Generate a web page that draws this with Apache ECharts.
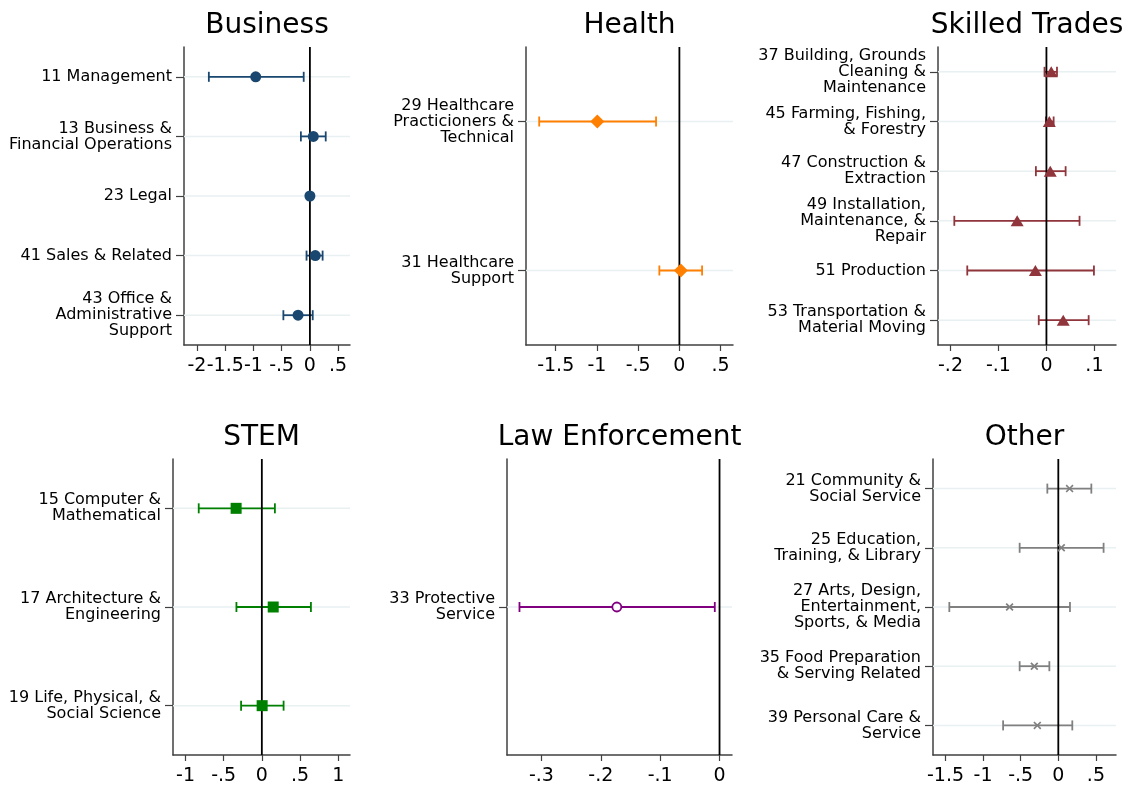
<!DOCTYPE html>
<html>
<head>
<meta charset="utf-8">
<script src="https://cdn.jsdelivr.net/npm/echarts@6/dist/echarts.min.js"></script>
<style>
    html, body { margin: 0; padding: 0; background: #fff; }
    #chart { width: 1129px; height: 786px; }
</style>
</head>
<body>
<div id="chart"></div>
<script>
// ---- data ----
var businessLabels = ['11 Management', '13 Business &\nFinancial Operations', '23 Legal', '41 Sales & Related', '43 Office &\nAdministrative\nSupport'];
var businessCoef = [-0.96, 0.06, 0.0, 0.095, -0.21];
var businessLow = [-1.79, -0.16, -0.015, -0.06, -0.47];
var businessHigh = [-0.11, 0.28, 0.015, 0.225, 0.05];
var businessTicks = [-2, -1.5, -1, -0.5, 0, 0.5];

var healthLabels = ['29 Healthcare\nPracticioners &\nTechnical', '31 Healthcare\nSupport'];
var healthCoef = [-0.995, 0.017];
var healthLow = [-1.70, -0.243];
var healthHigh = [-0.283, 0.275];
var healthTicks = [-1.5, -1, -0.5, 0, 0.5];

var tradesLabels = ['37 Building, Grounds\nCleaning &\nMaintenance', '45 Farming, Fishing,\n& Forestry', '47 Construction &\nExtraction', '49 Installation,\nMaintenance, &\nRepair', '51 Production', '53 Transportation &\nMaterial Moving'];
var tradesCoef = [0.010, 0.006, 0.008, -0.061, -0.023, 0.035];
var tradesLow = [-0.004, -0.001, -0.022, -0.192, -0.165, -0.016];
var tradesHigh = [0.022, 0.015, 0.040, 0.069, 0.099, 0.088];
var tradesTicks = [-0.2, -0.1, 0, 0.1];

var stemLabels = ['15 Computer &\nMathematical', '17 Architecture &\nEngineering', '19 Life, Physical, &\nSocial Science'];
var stemCoef = [-0.337, 0.149, 0.004];
var stemLow = [-0.827, -0.333, -0.272];
var stemHigh = [0.171, 0.643, 0.285];
var stemTicks = [-1, -0.5, 0, 0.5, 1];

var lawLabels = ['33 Protective\nService'];
var lawCoef = [-0.173];
var lawLow = [-0.337];
var lawHigh = [-0.008];
var lawTicks = [-0.3, -0.2, -0.1, 0];

var otherLabels = ['21 Community &\nSocial Service', '25 Education,\nTraining, & Library', '27 Arts, Design,\nEntertainment,\nSports, & Media', '35 Food Preparation\n& Serving Related', '39 Personal Care &\nService'];
var otherCoef = [0.150, 0.040, -0.648, -0.319, -0.279];
var otherLow = [-0.146, -0.514, -1.449, -0.514, -0.734];
var otherHigh = [0.439, 0.602, 0.155, -0.119, 0.186];
var otherTicks = [-1.5, -1, -0.5, 0, 0.5];

(function () {
    var FONT = 'DejaVu Sans';
    // small bold "x" marker
    var crossPath = 'path://M1.5,0L5,3.5L8.5,0L10,1.5L6.5,5L10,8.5L8.5,10L5,6.5L1.5,10L0,8.5L3.5,5L0,1.5Z';

    // panel layout and styles
    var panels = [
        { title: 'Business', labels: businessLabels, coef: businessCoef, low: businessLow, high: businessHigh, ticks: businessTicks,
          min: -2.23, max: 0.71, box: [184, 47, 166, 298], color: '#1a476f', symbol: 'circle', size: 11 },
        { title: 'Health', labels: healthLabels, coef: healthCoef, low: healthLow, high: healthHigh, ticks: healthTicks,
          min: -1.86, max: 0.65, box: [526, 47, 207, 298], color: '#ff7f00', symbol: 'diamond', size: [14, 14] },
        { title: 'Skilled Trades', labels: tradesLabels, coef: tradesCoef, low: tradesLow, high: tradesHigh, ticks: tradesTicks,
          min: -0.226, max: 0.145, box: [938, 47, 178, 298], color: '#90353b', symbol: 'triangle', size: [13, 11] },
        { title: 'STEM', labels: stemLabels, coef: stemCoef, low: stemLow, high: stemHigh, ticks: stemTicks,
          min: -1.164, max: 1.155, box: [173, 459, 177, 299], color: '#008000', symbol: 'rect', size: 11 },
        { title: 'Law Enforcement', labels: lawLabels, coef: lawCoef, low: lawLow, high: lawHigh, ticks: lawTicks,
          min: -0.358, max: 0.021, box: [507, 459, 225, 299], color: '#800080', symbol: 'circle', size: 9, hollow: true },
        { title: 'Other', labels: otherLabels, coef: otherCoef, low: otherLow, high: otherHigh, ticks: otherTicks,
          min: -1.666, max: 0.767, box: [933, 459, 183, 299], color: '#808080', symbol: crossPath, size: 8 }
    ];

    // Stata style tick labels: .5 / -.5
    function fmtTick(v) {
        var s = String(Math.round(v * 1000) / 1000);
        return s.replace(/^(-?)0\./, '$1.');
    }

    var grids = [], xAxes = [], yAxes = [], titles = [], series = [];

    panels.forEach(function (p, i) {
        grids.push({ left: p.box[0], top: p.box[1], width: p.box[2], height: p.box[3], containLabel: false });

        titles.push({
            text: p.title,
            left: p.box[0] + p.box[2] / 2,
            top: p.box[1] - 35,
            textAlign: 'center',
            padding: 0,
            textStyle: { fontFamily: FONT, fontSize: 28, fontWeight: 'normal', color: '#000' }
        });

        xAxes.push({
            type: 'value', gridIndex: i, min: p.min, max: p.max,
            axisLine: { show: true, onZero: false, lineStyle: { color: '#404040', width: 1.5 } },
            axisTick: { show: true, length: 6, customValues: p.ticks, lineStyle: { color: '#404040', width: 1.2 } },
            axisLabel: { customValues: p.ticks, formatter: fmtTick, fontFamily: FONT, fontSize: 19, color: '#000', margin: 12 },
            splitLine: { show: false }
        });

        yAxes.push({
            type: 'category', gridIndex: i, data: p.labels, inverse: true, boundaryGap: true,
            axisLine: { show: true, onZero: false, lineStyle: { color: '#404040', width: 1.5 } },
            axisTick: { show: true, alignWithLabel: true, interval: 0, length: 8, lineStyle: { color: '#404040', width: 1.2 } },
            axisLabel: { interval: 0, fontFamily: FONT, fontSize: 16, lineHeight: 16, color: '#000', margin: 12, align: 'right' },
            splitLine: { show: false }
        });

        var rows = [], bars = [], points = [];
        for (var k = 0; k < p.labels.length; k++) {
            rows.push([k]);
            bars.push([p.low[k], p.high[k], k]);
            points.push([p.coef[k], k]);
        }

        // light row lines
        series.push({
            type: 'custom', xAxisIndex: i, yAxisIndex: i, z: 1, silent: true,
            data: rows, encode: { y: 0 },
            renderItem: function (params, api) {
                var cs = params.coordSys;
                var y = api.coord([p.min, api.value(0)])[1];
                return {
                    type: 'line',
                    shape: { x1: cs.x, y1: y, x2: cs.x + cs.width, y2: y },
                    style: { stroke: '#e8f0f2', lineWidth: 1.5 }
                };
            }
        });

        // confidence intervals with caps
        series.push({
            type: 'custom', xAxisIndex: i, yAxisIndex: i, z: 2, silent: true,
            data: bars, encode: { x: [0, 1], y: 2 },
            renderItem: function (params, api) {
                var a = api.coord([api.value(0), api.value(2)]);
                var b = api.coord([api.value(1), api.value(2)]);
                var cap = 5;
                var st = { stroke: p.color, lineWidth: 1.8 };
                return {
                    type: 'group',
                    children: [
                        { type: 'line', shape: { x1: a[0], y1: a[1], x2: b[0], y2: b[1] }, style: st },
                        { type: 'line', shape: { x1: a[0], y1: a[1] - cap, x2: a[0], y2: a[1] + cap }, style: st },
                        { type: 'line', shape: { x1: b[0], y1: b[1] - cap, x2: b[0], y2: b[1] + cap }, style: st }
                    ]
                };
            }
        });

        // zero reference line
        series.push({
            type: 'custom', xAxisIndex: i, yAxisIndex: i, z: 3, silent: true,
            data: [[0]], encode: { x: 0 },
            renderItem: function (params, api) {
                var cs = params.coordSys;
                var x = api.coord([0, 0])[0];
                return {
                    type: 'line',
                    shape: { x1: x, y1: cs.y, x2: x, y2: cs.y + cs.height },
                    style: { stroke: '#000', lineWidth: 1.8 }
                };
            }
        });

        // point estimates
        series.push({
            type: 'scatter', xAxisIndex: i, yAxisIndex: i, z: 4, silent: true,
            symbol: p.symbol, symbolSize: p.size,
            itemStyle: p.hollow
                ? { color: '#fff', borderColor: p.color, borderWidth: 1.8, opacity: 1 }
                : { color: p.color, opacity: 1 },
            data: points
        });
    });

    var myChart = echarts.init(document.getElementById('chart'));
    myChart.setOption({
        animation: false,
        backgroundColor: '#fff',
        title: titles,
        grid: grids,
        xAxis: xAxes,
        yAxis: yAxes,
        series: series
    });
})();
</script>
</body>
</html>
